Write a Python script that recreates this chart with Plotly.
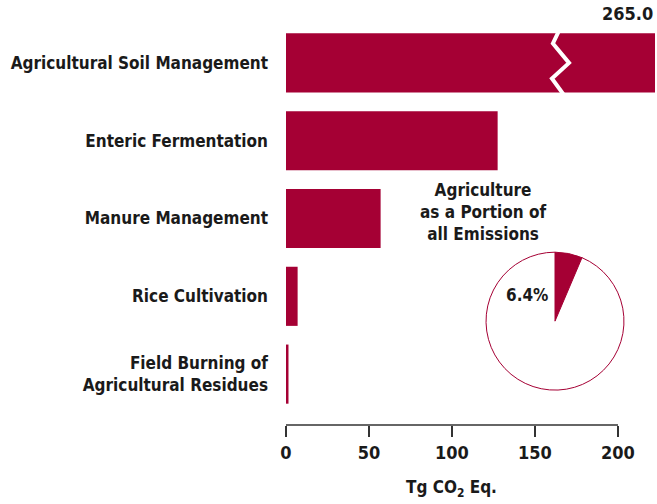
import plotly.graph_objects as go

categories = [
    "Agricultural Soil Management",
    "Enteric Fermentation",
    "Manure Management",
    "Rice Cultivation",
    "Field Burning of<br>Agricultural Residues",
]
emissions = [265.0, 127.5, 57.0, 7.0, 1.5]
x_ticks = [0, 50, 100, 150, 200]
pie_labels = ["Agriculture", "Other"]
pie_share = [6.4, 93.6]

RED = "#a50034"
INK = "#1a1a1a"
FONT = "Liberation Sans Narrow, DejaVu Sans Condensed, Arial Narrow, sans-serif"
X_MAX = 222.3
BREAK_AT = 165

fig = go.Figure()
fig.add_trace(
    go.Bar(
        x=emissions,
        y=categories,
        orientation="h",
        width=0.76,
        marker=dict(color=RED, line=dict(width=0)),
        showlegend=False,
        hoverinfo="x+y",
    )
)
fig.add_trace(
    go.Pie(
        labels=pie_labels,
        values=pie_share,
        sort=False,
        direction="clockwise",
        rotation=0,
        marker=dict(colors=[RED, "white"], line=dict(color=RED, width=1)),
        textinfo="none",
        domain=dict(x=[0.539, 0.919], y=[0.087, 0.431]),
        showlegend=False,
    )
)

# break mark across the clipped bar
b = BREAK_AT
zig = [(b + 0.3, -0.45), (b - 4.2, -0.25), (b + 5.5, 0.0), (b - 4.8, 0.2), (b + 3.7, 0.45)]
path = "M " + " L ".join(f"{px},{py}" for px, py in zig)
fig.add_shape(type="path", path=path, xref="x", yref="y",
              line=dict(color="white", width=4))

# axis line only up to the last tick
fig.add_shape(type="line", xref="x", yref="paper", x0=0, x1=x_ticks[-1], y0=0, y1=0,
              line=dict(color="#333333", width=1.5))

fig.add_annotation(
    text=f"{emissions[0]:.1f}", xref="x", x=X_MAX, xanchor="right",
    yref="y", y=-0.5, yanchor="bottom", yshift=-2, showarrow=False,
    font=dict(family=FONT, size=18, color=INK, weight="bold"),
)
fig.add_annotation(
    text="Agriculture<br>as a Portion of<br>all Emissions", xref="paper", x=0.711,
    yref="paper", y=0.531, showarrow=False, align="center",
    font=dict(family=FONT, size=17, color=INK, weight="bold"),
)
fig.add_annotation(
    text=f"{pie_share[0]}%", xref="paper", x=0.653,
    yref="paper", y=0.295, showarrow=False,
    font=dict(family=FONT, size=17, color=INK, weight="bold"),
)
fig.add_annotation(
    text="Tg CO<sub>2</sub> Eq.", xref="x", x=100,
    yref="paper", y=-0.192, showarrow=False,
    font=dict(family=FONT, size=17, color=INK, weight="bold"),
)

fig.update_xaxes(
    range=[0, X_MAX],
    tickvals=x_ticks,
    ticks="outside",
    ticklen=11,
    tickwidth=1.5,
    tickcolor="#333333",
    showline=False,
    showgrid=False,
    zeroline=False,
    automargin=False,
    tickfont=dict(family=FONT, size=18, color=INK, weight="bold"),
    fixedrange=True,
)
fig.update_yaxes(
    type="category",
    categoryorder="array",
    categoryarray=categories,
    range=[4.654, -0.5],
    showgrid=False,
    zeroline=False,
    showline=False,
    ticks="",
    ticklabelstandoff=17,
    automargin=False,
    tickfont=dict(family=FONT, size=17, color=INK, weight="bold"),
    fixedrange=True,
)
fig.update_layout(
    width=657,
    height=504,
    margin=dict(l=286, r=2, t=24, b=79),
    paper_bgcolor="white",
    plot_bgcolor="white",
    bargap=0.24,
)

fig.write_html("out.html", config={"displayModeBar": False})

# drop the default page margin so the figure sits at the window corner
with open("out.html", encoding="utf-8") as f:
    html = f.read()
html = html.replace("<head>", "<head><style>body{margin:0;}</style>", 1)
with open("out.html", "w", encoding="utf-8") as f:
    f.write(html)
